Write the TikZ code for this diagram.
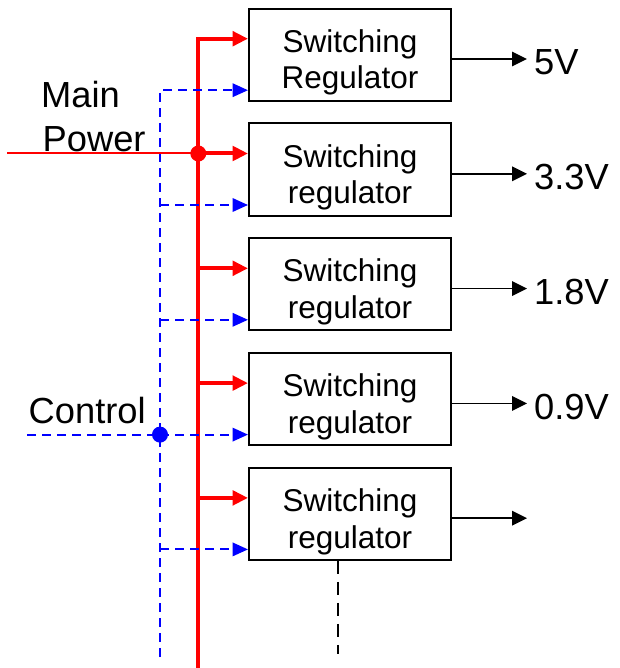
\documentclass[tikz,border=0pt]{standalone}
\usepackage{fontspec}
\setmainfont{Liberation Sans}
\usetikzlibrary{arrows.meta}
\begin{document}
\begin{tikzpicture}[x=1pt,y=-1pt,
  box/.style={draw, line width=2pt, minimum width=202pt, minimum height=92pt, inner sep=0pt},
  boxtext/.style={align=center, inner sep=0pt, font=\fontsize{31.5}{36.6}\selectfont},
  lbl/.style={anchor=base west, inner sep=0pt, font=\fontsize{36.3}{40}\selectfont},
  redarr/.style={red, line width=4pt, -{Triangle[length=15.5pt,width=14.5pt]}},
  bluearr/.style={blue, line width=2pt, dash pattern=on 9pt off 6pt, -{Triangle[length=15.5pt,width=13.5pt]}},
  outarr/.style={black, line width=1.7pt, -{Triangle[length=15pt,width=14.5pt]}},
  dotnode/.style={circle, inner sep=0pt, minimum size=16pt}
]
\useasboundingbox (0,0) rectangle (619,668);

% boxes
\node[box] (b1) at (350,54.7) {};
\node[box] (b2) at (350,169.5) {};
\node[box] (b3) at (350,284.3) {};
\node[box] (b4) at (350,399.1) {};
\node[box] (b5) at (350,513.9) {};

\node[boxtext] (t1) at ([yshift=-7.85pt]b1.center) {Switching\\Regulator};
\node[boxtext] (t2) at ([yshift=-7.85pt]b2.center) {Switching\\regulator};
\node[boxtext] (t3) at ([yshift=-7.85pt]b3.center) {Switching\\regulator};
\node[boxtext] (t4) at ([yshift=-7.85pt]b4.center) {Switching\\regulator};
\node[boxtext] (t5) at ([yshift=-7.85pt]b5.center) {Switching\\regulator};

% arrow targets
\foreach \i in {1,...,5}{
  \coordinate (rt\i) at ([yshift=-31pt]b\i.north west);
  \coordinate (bt\i) at ([yshift=-82.5pt]b\i.north west);
}
\coordinate (rbot) at (198.3,668);
\coordinate (bbot) at (160,657);

% red bus
\draw[redarr] (rbot) |- (rt1);
\foreach \i in {2,...,5}{
  \draw[redarr] (rbot |- rt\i) -- (rt\i);
}
% blue control bus
\draw[bluearr] (bbot) |- (bt1);
\foreach \i in {2,...,5}{
  \draw[bluearr] (bbot |- bt\i) -- (bt\i);
}

% main power
\coordinate (mp) at (7,0);
\node[dotnode, fill=red] (pd) at (rbot |- rt2) {};
\draw[red, line width=2pt] (mp |- rt2) -- (pd.center);
\node[lbl] (mainlbl) at (41,108) {Main};
\node[lbl] (powerlbl) at (42.5,152) {Power};

% control
\coordinate (cs) at (27,0);
\node[dotnode, fill=blue] (cd) at (bbot |- bt4) {};
\draw[blue, line width=2pt, dash pattern=on 9pt off 6pt] (cs |- bt4) -- (cd.center);
\node[lbl] (ctrllbl) at (28.5,423) {Control};

% outputs
\foreach \i/\y in {1/59,2/173.8,3/288.6,4/403.4,5/518.2}{
  \coordinate (o\i) at (527,\y);
  \draw[outarr] (b\i.east |- o\i) -- (o\i);
}
\node[lbl] (v1) at (534,75) {5V};
\node[lbl] (v2) at (534,189.8) {3.3V};
\node[lbl] (v3) at (534,304.6) {1.8V};
\node[lbl] (v4) at (534,419.4) {0.9V};

% continuation
\coordinate (dend) at (338,654);
\draw[black, line width=1.6pt, dash pattern=on 13pt off 8pt] ([xshift=-12pt]b5.south) -- (dend);
\end{tikzpicture}
\end{document}
